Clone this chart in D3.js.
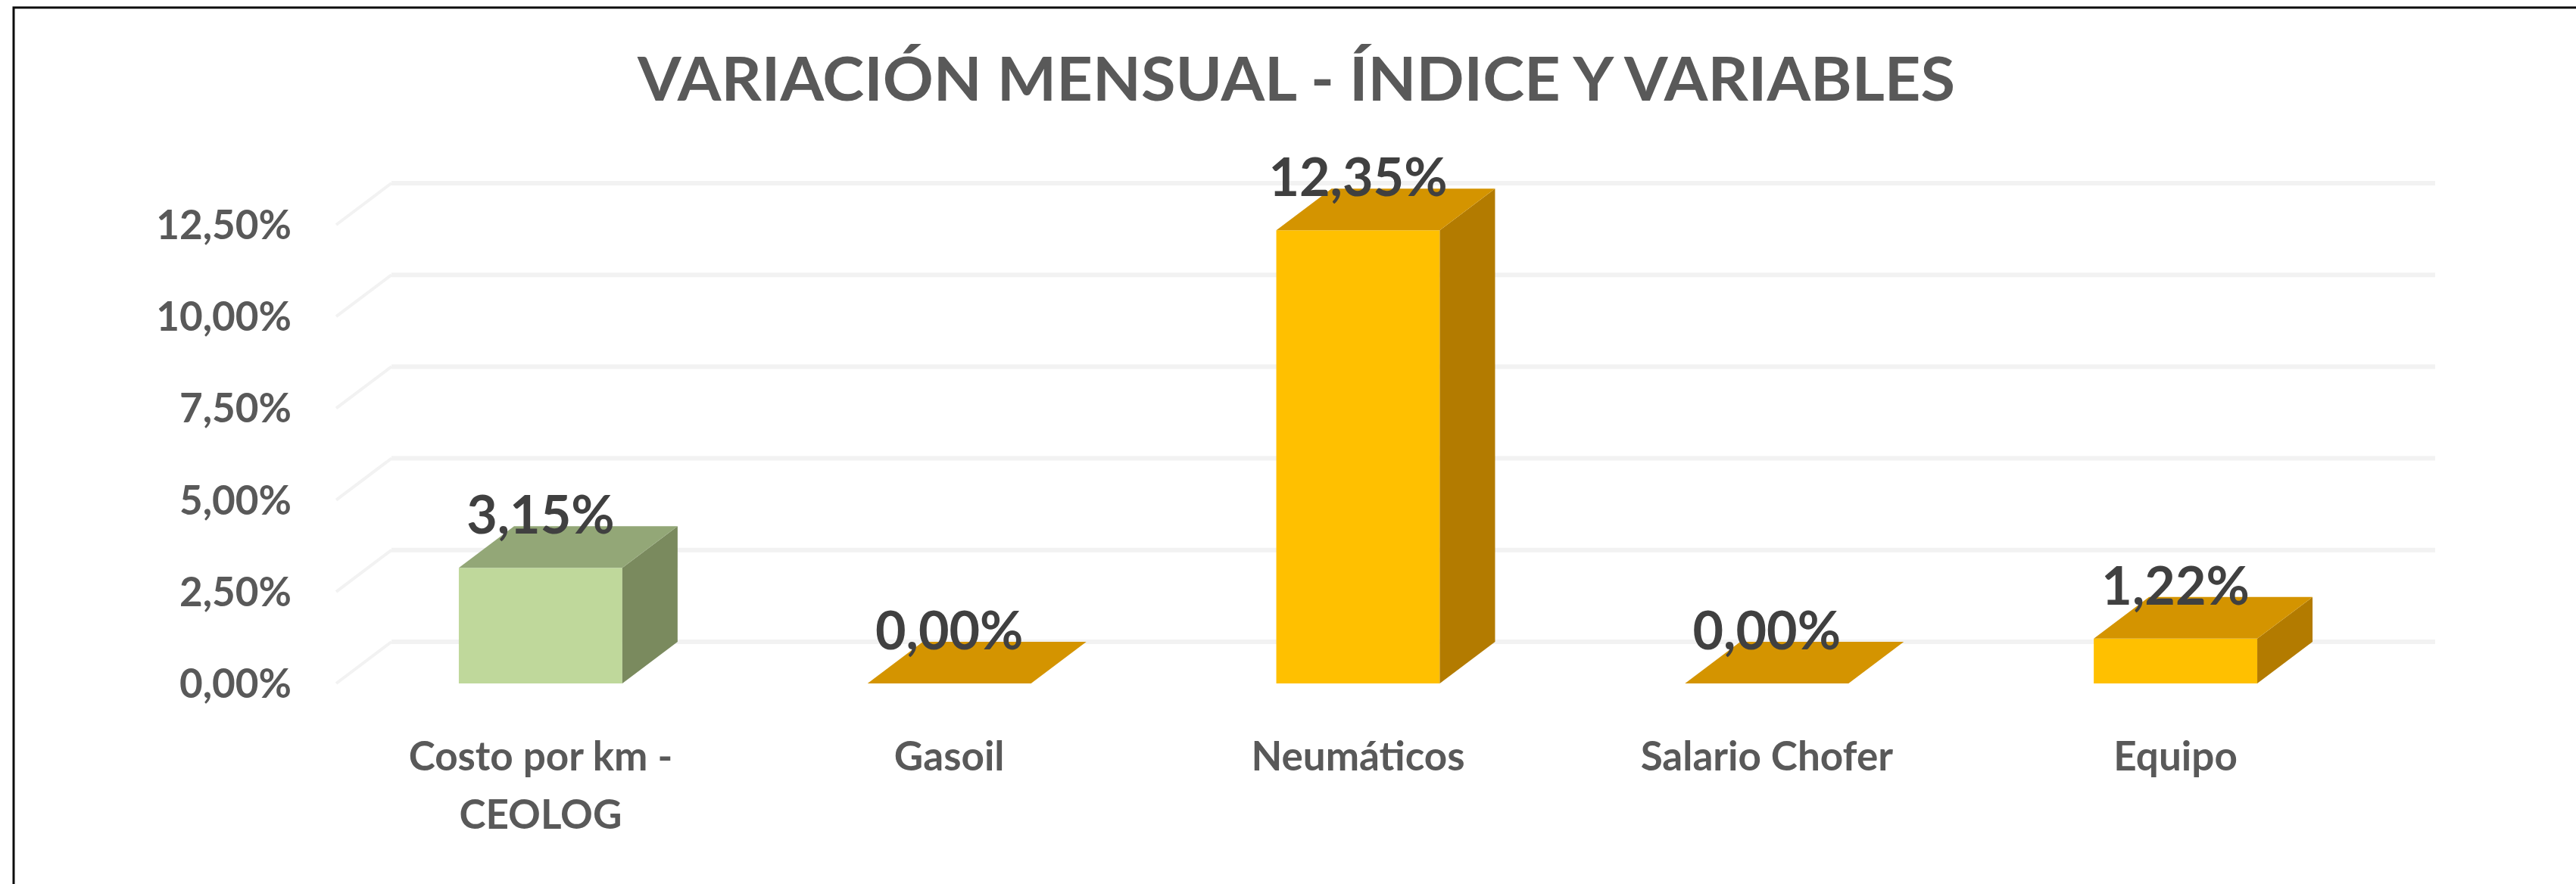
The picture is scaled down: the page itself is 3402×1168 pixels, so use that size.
<!DOCTYPE html>
<html>
<head>
<meta charset="utf-8">
<script src="https://cdn.jsdelivr.net/npm/d3@7"></script>
<style>
  body { margin: 0; background: #fff; }
  text { font-family: Lato, "Open Sans", sans-serif; font-weight: bold; }
</style>
</head>
<body>
<div class="chart-wrapper"></div>
<script>
const categories = [["Costo por km -", "CEOLOG"], ["Gasoil"], ["Neumáticos"], ["Salario Chofer"], ["Equipo"]];
const values = [0.0315, 0, 0.1235, 0, 0.0122];
const valueLabels = ["3,15%", "0,00%", "12,35%", "0,00%", "1,22%"];
const ticks = [0, 0.025, 0.05, 0.075, 0.10, 0.125];
const tickLabels = ["0,00%", "2,50%", "5,00%", "7,50%", "10,00%", "12,50%"];
const title = "VARIACIÓN MENSUAL - ÍNDICE Y VARIABLES";

let width = 3402,
height = 1168;

// depth of the fake 3d
let dx = 73,
dy = -55;

let green = { front: "#bfd89b", top: "#93a777", side: "#7a8a5e" };
let orange = { front: "#ffc000", top: "#d49400", side: "#b37b00" };

let x = d3.scaleBand()
.domain(d3.range(categories.length))
.range([444, 3143])
.paddingInner(0.6)
.paddingOuter(0.3);

let y = d3.scaleLinear()
.domain([0, 0.125])
.range([903, 297]);

let svg = d3.select(".chart-wrapper")
.append("svg")
.attr("width", width)
.attr("height", height);

svg.append("rect").attr("width", width).attr("height", height).attr("fill", "#fff");

// frame: only top and left edges show
svg.append("path")
.attr("d", `M18,${height} L18,10 L${width},10`)
.attr("fill", "none")
.attr("stroke", "#0d0d0d")
.attr("stroke-width", 3);

svg.append("text")
.attr("x", 1712)
.attr("y", 133)
.attr("text-anchor", "middle")
.attr("font-size", 80)
.attr("textLength", 1740)
.attr("lengthAdjust", "spacingAndGlyphs")
.attr("fill", "#595959")
.text(title);

// gridlines on the side wall and back wall
let x0 = x.range()[0], x1 = x.range()[1];

svg.selectAll(".grid-side")
.data(ticks)
.enter()
.append("line")
.attr("class", "grid-side")
.attr("x1", x0).attr("y1", d => y(d))
.attr("x2", x0 + dx).attr("y2", d => y(d) + dy)
.attr("stroke", "#f2f2f2")
.attr("stroke-width", 4);

svg.selectAll(".grid")
.data(ticks)
.enter()
.append("line")
.attr("class", "grid")
.attr("x1", x0 + dx).attr("y1", d => y(d) + dy)
.attr("x2", x1 + dx).attr("y2", d => y(d) + dy)
.attr("stroke", "#f2f2f2")
.attr("stroke-width", 6);

svg.selectAll(".tick-label")
.data(ticks)
.enter()
.append("text")
.attr("class", "tick-label")
.attr("x", 385)
.attr("y", d => y(d))
.attr("dy", "0.36em")
.attr("text-anchor", "end")
.attr("font-size", 53)
.attr("fill", "#595959")
.text((d, i) => tickLabels[i]);

let bars = svg.selectAll(".bar")
.data(values)
.enter()
.append("g")
.attr("class", "bar");

bars.each(function(v, i) {
  let g = d3.select(this);
  let c = i == 0 ? green : orange;
  let bx = x(i), bw = x.bandwidth();
  let top = y(v), base = y(0);

  if (v > 0) {
    g.append("rect")
    .attr("x", bx).attr("y", top)
    .attr("width", bw).attr("height", base - top)
    .attr("fill", c.front);

    g.append("polygon")
    .attr("points", [[bx + bw, top], [bx + bw + dx, top + dy], [bx + bw + dx, base + dy], [bx + bw, base]].join(" "))
    .attr("fill", c.side);
  }

  g.append("polygon")
  .attr("points", [[bx, top], [bx + dx, top + dy], [bx + bw + dx, top + dy], [bx + bw, top]].join(" "))
  .attr("fill", c.top);
});

svg.selectAll(".value-label")
.data(values)
.enter()
.append("text")
.attr("class", "value-label")
.attr("x", (d, i) => x(i) + x.bandwidth() / 2)
.attr("y", d => y(d) + dy + 10)
.attr("text-anchor", "middle")
.attr("font-size", 70)
.attr("fill", "#404040")
.text((d, i) => valueLabels[i]);

svg.selectAll(".cat-label")
.data(categories)
.enter()
.append("text")
.attr("class", "cat-label")
.attr("x", (d, i) => x(i) + x.bandwidth() / 2)
.attr("y", 1018)
.attr("text-anchor", "middle")
.attr("font-size", 53)
.attr("fill", "#595959")
.selectAll("tspan")
.data(d => d)
.enter()
.append("tspan")
.attr("x", function() { return this.parentNode.getAttribute("x"); })
.attr("dy", (d, j) => j == 0 ? 0 : 77)
.text(d => d);
</script>
</body>
</html>
